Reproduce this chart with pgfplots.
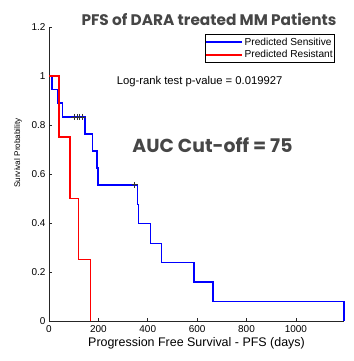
\documentclass[border=0pt]{standalone}
\usepackage{fontspec}
\setmainfont{Liberation Sans}
\newfontfamily\gothic{Poppins}
\usepackage{pgfplots}
\pgfplotsset{compat=1.18}
\definecolor{titlegray}{RGB}{70,70,70}
\begin{document}
\begin{tikzpicture}[x=1bp,y=1bp]
\useasboundingbox (0,0) rectangle (354,361);
\begin{axis}[
  at={(49bp,40bp)}, anchor=south west,
  scale only axis, width=295bp, height=294bp,
  xmin=0, xmax=1195, ymin=0, ymax=1.2,
  clip=false,
  axis lines=left,
  axis line style={-, black!85, line width=0.8bp},
  tick align=inside,
  major tick length=3bp,
  tick style={black!85, line width=0.6bp},
  xtick={0,200,400,600,800,1000},
  xticklabels={0,200,400,600,800,1000},
  ytick={0,0.2,0.4,0.6,0.8,1,1.2},
  yticklabels={0,0.2,0.4,0.6,0.8,1,1.2},
  /pgf/number format/assume math mode=true,
  ticklabel style={font=\fontsize{10}{12}\selectfont},
  xticklabel style={yshift=-1bp},
  xlabel={Progression Free Survival - PFS (days)},
  xlabel style={font=\fontsize{12.5}{14}\selectfont, yshift=2bp},
  legend style={at={(rel axis cs:0.9695,0.975)}, anchor=north east,
    draw=black, line width=0.6bp, inner xsep=0bp, inner ysep=1bp,
    font=\fontsize{10.2}{12}\selectfont, row sep=0bp,
    nodes={inner xsep=2bp}},
  legend cell align=left,
  legend image code/.code={\draw[#1, line width=1.6bp] (0bp,0bp) -- (36bp,0bp);},
]
\addplot[const plot, color=blue, line width=1.5bp, mark=none] coordinates {
  (0,1) (12,0.944) (34,0.889) (54,0.833) (146,0.764) (177,0.694)
  (194,0.625) (198,0.556) (359,0.476) (363,0.397) (411,0.317)
  (455,0.238) (587,0.159) (664,0.079) (1195,0)
};
\addlegendentry{Predicted Sensitive}
\addplot[const plot, color=red, line width=1.5bp, mark=none] coordinates {
  (0,1) (41,0.75) (85,0.5) (119,0.25) (168,0)
};
\addlegendentry{Predicted Resistant}
\addplot[only marks, color=black!80, mark=+, mark size=3bp, line width=0.7bp, forget plot] coordinates {
  (103,0.833) (113,0.833) (123,0.833) (136,0.833) (347,0.556)
};
\node[anchor=base, font=\fontsize{11.3}{13}\selectfont] at (axis cs:610,0.966) {Log-rank test p-value = 0.019927};
\end{axis}
\node[anchor=base, font=\gothic\bfseries\fontsize{15.4}{18}\selectfont, text=titlegray] at (209,336) {PFS of DARA treated MM Patients};
\node[anchor=base, font=\gothic\bfseries\fontsize{18.9}{22}\selectfont, text=titlegray] at (212.5,208.7) {AUC Cut-off = 75};
\node[rotate=90, font=\fontsize{8.2}{10}\selectfont] at (18,208) {Survival Probability};
\end{tikzpicture}
\end{document}
